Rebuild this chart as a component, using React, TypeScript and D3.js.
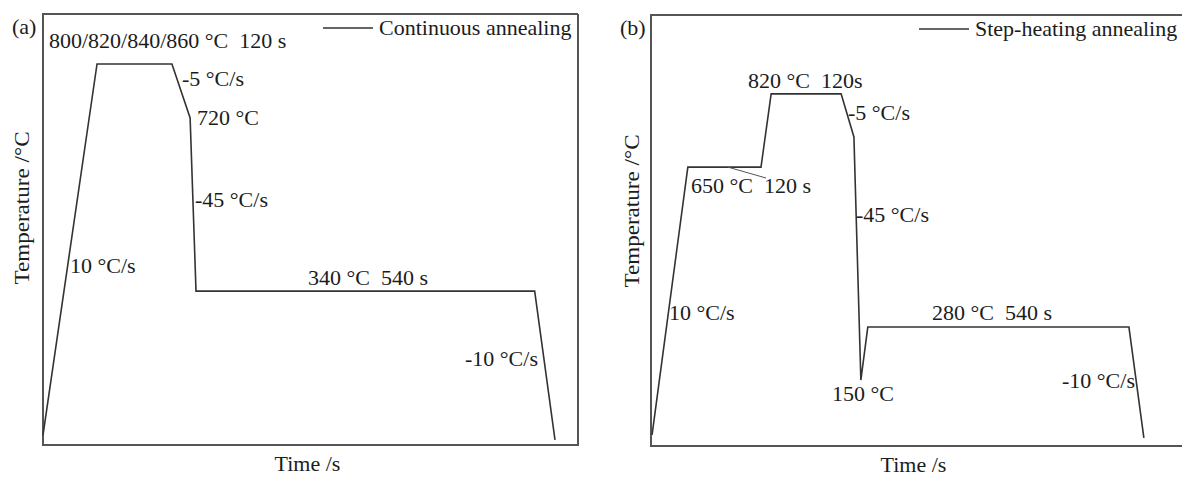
import React from "react";
import * as d3 from "d3";

// schematic units: time 0-100 across the frame, temperature 0-100 up the frame
const timeA = [0, 10.1, 24.1, 27.5, 28.6, 91.9, 95.7];
const tempA = [2.3, 88.4, 88.4, 75.9, 35.7, 35.7, 1.2];

const timeB = [0.2, 6.9, 20.6, 22.5, 35.6, 38.0, 39.3, 40.6, 89.5, 92.3];
const tempB = [2.6, 64.7, 64.7, 81.7, 81.7, 71.7, 15.3, 27.6, 27.6, 1.9];

const legendA = "Continuous annealing";
const legendB = "Step-heating annealing";
const xTitle = "Time /s";
const yTitle = "Temperature /\u00B0C";

const W = 1182;
const H = 479;
const FONT = "'Liberation Serif', 'Times New Roman', serif";

type Pt = { t: number; v: number };

function Label(props: { x: number; y: number; text: string; anchor?: string; size?: number }) {
  const { x, y, text, anchor = "start", size = 20 } = props;
  return (
    <text
      transform={`translate(${x},${y}) scale(1.1,1)`}
      textAnchor={anchor}
      fontSize={size}
      fontFamily={FONT}
      fill="#1c1c1c"
      style={{ whiteSpace: "pre" }}
    >
      {text}
    </text>
  );
}

function Panel(props: {
  left: number;
  right: number;
  top: number;
  bottom: number;
  times: number[];
  temps: number[];
  tag: string;
  legend: string;
  legendX: number;
  yTitleX: number;
  yTitleY: number;
  children?: (x: d3.ScaleLinear<number, number>, y: d3.ScaleLinear<number, number>) => React.ReactNode;
}) {
  const { left, right, top, bottom, times, temps, tag, legend, legendX } = props;
  const x = d3.scaleLinear().domain([0, 100]).range([left, right]);
  const y = d3.scaleLinear().domain([0, 100]).range([bottom, top]);
  const pts: Pt[] = times.map((t, i) => ({ t, v: temps[i] }));
  const line = d3
    .line<Pt>()
    .x((d) => x(d.t))
    .y((d) => y(d.v));
  const midX = (left + Math.min(right, W)) / 2;
  return (
    <g>
      <path
        d={`M${right},${top}H${left}V${bottom}H${right}V${top}`}
        fill="none"
        stroke="#555"
        strokeWidth={2}
      />
      <path d={line(pts) || ""} fill="none" stroke="#333" strokeWidth={1.6} />
      <Label x={left - 31} y={top + 20} text={tag} />
      <line x1={legendX} x2={legendX + 50} y1={top + 14} y2={top + 14} stroke="#333" strokeWidth={1.6} />
      <Label x={legendX + 56} y={top + 21} text={legend} />
      <Label x={midX - 3} y={bottom + 26} text={xTitle} anchor="middle" />
      <text
        transform={`translate(${props.yTitleX},${props.yTitleY}) rotate(-90) scale(1.1,1)`}
        textAnchor="middle"
        fontSize={21}
        fontFamily={FONT}
        fill="#1c1c1c"
      >
        {yTitle}
      </text>
      {props.children && props.children(x, y)}
    </g>
  );
}

export default function App() {
  return (
    <svg
      width={W}
      height={H}
      style={{ position: "absolute", left: 0, top: 0, background: "#fff" }}
    >
      <Panel
        left={43}
        right={578}
        top={14}
        bottom={445}
        times={timeA}
        temps={tempA}
        tag="(a)"
        legend={legendA}
        legendX={323}
        yTitleX={29}
        yTitleY={208}
      >
        {() => (
          <g>
            <Label x={49} y={48} text={"800/820/840/860 \u00B0C  120 s"} />
            <Label x={182} y={86} text={"-5 \u00B0C/s"} />
            <Label x={197} y={125} text={"720 \u00B0C"} />
            <Label x={195} y={207} text={"-45 \u00B0C/s"} />
            <Label x={70} y={273} text={"10 \u00B0C/s"} />
            <Label x={308} y={285} text={"340 \u00B0C  540 s"} />
            <Label x={465} y={366} text={"-10 \u00B0C/s"} />
          </g>
        )}
      </Panel>
      <Panel
        left={651}
        right={1185}
        top={15}
        bottom={446}
        times={timeB}
        temps={tempB}
        tag="(b)"
        legend={legendB}
        legendX={919}
        yTitleX={639}
        yTitleY={211}
      >
        {(x, y) => (
          <g>
            <Label x={748} y={88} text={"820 \u00B0C  120s"} />
            <Label x={848} y={120} text={"-5 \u00B0C/s"} />
            <line x1={728} y1={y(64.7)} x2={766} y2={178} stroke="#555" strokeWidth={1} />
            <Label x={691} y={193} text={"650 \u00B0C  120 s"} />
            <Label x={856} y={222} text={"-45 \u00B0C/s"} />
            <Label x={669} y={320} text={"10 \u00B0C/s"} />
            <Label x={932} y={320} text={"280 \u00B0C  540 s"} />
            <Label x={832} y={401} text={"150 \u00B0C"} />
            <Label x={1062} y={388} text={"-10 \u00B0C/s"} />
          </g>
        )}
      </Panel>
    </svg>
  );
}
